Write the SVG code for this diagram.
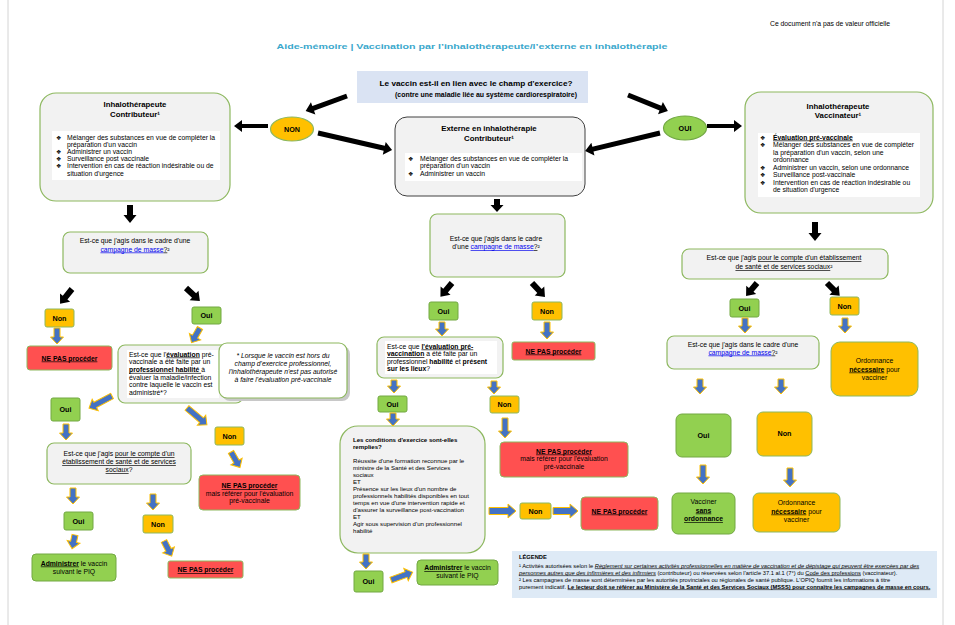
<svg xmlns="http://www.w3.org/2000/svg" width="955" height="625" viewBox="0 0 955 625">
<style>
text{font-family:"Liberation Sans",Arial,Helvetica,sans-serif;fill:#000;font-size:6.8px}
.c{text-anchor:middle}
.b{font-weight:bold}
.u{text-decoration:underline}
.i{font-style:italic}
.lk{fill:#0000EE;text-decoration:underline}
.bul{font-family:"DejaVu Sans",sans-serif;font-size:6px}
.gbox{fill:#F2F2F2;stroke:#8DB85F;stroke-width:1.2}
.wb{fill:#FFFFFF}
.oui{fill:#92D050;stroke:#72A843;stroke-width:1}
.non{fill:#FFC000;stroke:#8DB85F;stroke-width:1}
.red{fill:#FF5050;stroke:#8DB85F;stroke-width:1}
.yn{font-weight:bold;font-size:7.2px;text-anchor:middle}
.ba{fill:#4472C4;stroke:#FFC000;stroke-width:1}
.ka{fill:#000}
.leg{font-size:5.75px}
.cd{font-size:6.1px}
.tt{font-weight:bold;font-size:7.8px;text-anchor:middle}
</style>
<rect width="955" height="625" fill="#FFFFFF"/>
<line x1="8" y1="0" x2="8" y2="625" stroke="#D4D4D4" stroke-width="1"/>
<line x1="943" y1="0" x2="943" y2="625" stroke="#D4D4D4" stroke-width="1"/>

<g id="header">
<text x="830" y="26" class="c" font-size="6.5" textLength="120" lengthAdjust="spacingAndGlyphs">Ce document n'a pas de valeur officielle</text>
<text x="472" y="49" class="c b" font-size="10.5" style="fill:#3AA8CC" textLength="391" lengthAdjust="spacingAndGlyphs">Aide-mémoire | Vaccination par l’inhalothérapeute/l’externe en inhalothérapie</text>
</g>

<g id="q-champ">
<rect x="357" y="71" width="231" height="32" fill="#DAE3F3"/>
<text x="476" y="86" class="c b" font-size="9.5" textLength="193" lengthAdjust="spacingAndGlyphs">Le vaccin est-il en lien avec le champ d'exercice?</text>
<text x="486" y="97" class="c b" font-size="6.5" textLength="182" lengthAdjust="spacingAndGlyphs">(contre une maladie liée au système cardiorespiratoire)</text>
</g>

<g id="non-top">
<ellipse cx="292" cy="129" rx="21.5" ry="12" fill="#FFC000" stroke="#8DB85F" stroke-width="1.2"/>
<text x="292" y="132" class="yn">NON</text>
</g>
<g id="oui-top">
<ellipse cx="685" cy="128" rx="21.5" ry="12" fill="#92D050" stroke="#72A843" stroke-width="1.2"/>
<text x="685" y="131" class="yn">OUI</text>
</g>

<g id="box-inh-contrib">
<rect x="40" y="93" width="190" height="108" rx="16" class="gbox"/>
<rect x="52" y="131" width="168" height="49" class="wb"/>
<text x="135" y="107" class="tt">Inhalothérapeute</text>
<text x="135" y="116.5" class="tt">Contributeur¹</text>
<text x="56" y="139.5" class="bul">❖</text><text x="67" y="139.5">Mélanger des substances en vue de compléter la</text>
<text x="67" y="146.7">préparation d'un vaccin</text>
<text x="56" y="153.9" class="bul">❖</text><text x="67" y="153.9">Administrer un vaccin</text>
<text x="56" y="161.1" class="bul">❖</text><text x="67" y="161.1">Surveillance post vaccinale</text>
<text x="56" y="168.3" class="bul">❖</text><text x="67" y="168.3">Intervention en cas de réaction indésirable ou de</text>
<text x="67" y="175.5">situation d'urgence</text>
</g>

<g id="box-externe">
<rect x="395" y="117" width="190" height="79" rx="12" fill="#F2F2F2" stroke="#404040" stroke-width="1"/>
<rect x="405" y="153" width="177" height="28" class="wb"/>
<text x="489" y="131" class="tt">Externe en inhalothérapie</text>
<text x="489" y="140.5" class="tt">Contributeur¹</text>
<text x="408" y="161" class="bul">❖</text><text x="420" y="161">Mélanger des substances en vue de compléter la</text>
<text x="420" y="168">préparation d'un vaccin</text>
<text x="408" y="175.5" class="bul">❖</text><text x="420" y="175.5">Administrer un vaccin</text>
</g>

<g id="box-inh-vaccinateur">
<rect x="745" y="92" width="188" height="121" rx="16" class="gbox"/>
<rect x="758" y="133" width="162" height="64" class="wb"/>
<text x="838" y="108.5" class="tt">Inhalothérapeute</text>
<text x="838" y="118" class="tt">Vaccinateur¹</text>
<text x="760" y="139.5" class="bul">❖</text><text x="773" y="139.5" class="b u">Évaluation pré-vaccinale</text>
<text x="760" y="147" class="bul">❖</text><text x="773" y="147">Mélanger des substances en vue de compléter</text>
<text x="773" y="154.5">la préparation d'un vaccin, selon une</text>
<text x="773" y="162">ordonnance</text>
<text x="760" y="169.5" class="bul">❖</text><text x="773" y="169.5">Administrer un vaccin, selon une ordonnance</text>
<text x="760" y="177" class="bul">❖</text><text x="773" y="177">Surveillance post-vaccinale</text>
<text x="760" y="184.5" class="bul">❖</text><text x="773" y="184.5">Intervention en cas de réaction indésirable ou</text>
<text x="773" y="192">de situation d'urgence</text>
</g>

<!-- Left column -->
<g id="q-l-campagne">
<rect x="63" y="232" width="145" height="41" rx="7" class="gbox"/>
<text x="135" y="243" class="c">Est-ce que j'agis dans le cadre d'une</text>
<text x="135" y="251.5" class="c"><tspan class="lk">campagne de masse</tspan><tspan class="u">?</tspan>²</text>
</g>
<g id="l-non1"><rect x="45" y="309" width="29" height="18" rx="2" class="non"/><text x="59.5" y="320.5" class="yn">Non</text></g>
<g id="l-oui1"><rect x="192" y="307" width="29" height="17" rx="2" class="oui"/><text x="206.5" y="318" class="yn">Oui</text></g>
<g id="l-stop1"><rect x="27" y="346" width="85" height="24" rx="3" class="red"/><text x="69.5" y="360.5" class="c b u">NE PAS procéder</text></g>

<g id="q-l-evaluation">
<rect x="118" y="345" width="125" height="58" rx="7" class="gbox"/>
<rect x="127" y="350" width="92" height="48" class="wb"/>
<text x="129" y="356.5">Est-ce que l'<tspan class="b u">évaluation</tspan> pré-</text>
<text x="129" y="364.2">vaccinale a été faite par un</text>
<text x="129" y="371.9"><tspan class="b u">professionnel habilité </tspan>à</text>
<text x="129" y="379.6">évaluer la maladie/infection</text>
<text x="129" y="387.3">contre laquelle le vaccin est</text>
<text x="129" y="395">administré*?</text>
</g>
<g id="note">
<rect x="222" y="346" width="128" height="55" rx="8" fill="#C8C8C8"/>
<rect x="219" y="343" width="128" height="55" rx="8" fill="#FFFFFF" stroke="#8DB85F" stroke-width="1.2"/>
<text x="283" y="358" class="c i">* Lorsque le vaccin est hors du</text>
<text x="283" y="366" class="c i">champ d'exercice professionnel,</text>
<text x="283" y="374" class="c i">l'inhalothérapeute n'est pas autorisé</text>
<text x="283" y="382" class="c i">à faire l'évaluation pré-vaccinale</text>
</g>
<g id="l-oui2"><rect x="51" y="398" width="29" height="23" rx="2" class="oui"/><text x="65.5" y="412" class="yn">Oui</text></g>
<g id="l-non2"><rect x="215" y="427" width="29" height="18" rx="2" class="non"/><text x="229.5" y="438.5" class="yn">Non</text></g>
<g id="q-l-etablissement">
<rect x="47" y="443" width="144" height="41" rx="7" class="gbox"/>
<text x="119" y="456" class="c">Est-ce que j'agis <tspan class="u">pour le compte d'un</tspan></text>
<text x="119" y="464" class="c u">établissement de santé et de services</text>
<text x="119" y="472" class="c"><tspan class="u">sociaux</tspan>?</text>
</g>
<g id="l-stop2">
<rect x="199" y="475" width="101" height="35" rx="4" class="red"/>
<text x="249.5" y="488" class="c b u">NE PAS procéder</text>
<text x="249.5" y="495.5" class="c">mais référer pour l'évaluation</text>
<text x="249.5" y="503" class="c">pré-vaccinale</text>
</g>
<g id="l-oui3"><rect x="64" y="512" width="29" height="18" rx="2" class="oui"/><text x="78.5" y="523.5" class="yn">Oui</text></g>
<g id="l-non3"><rect x="143" y="515" width="30" height="18" rx="2" class="non"/><text x="158" y="526.5" class="yn">Non</text></g>
<g id="l-administrer">
<rect x="32" y="554" width="84" height="27" rx="4" class="oui"/>
<text x="74" y="565.5" class="c"><tspan class="b u">Administrer</tspan> le vaccin</text>
<text x="74" y="573.5" class="c">suivant le PIQ</text>
</g>
<g id="l-stop3"><rect x="168" y="561" width="75" height="17" rx="2" class="red"/><text x="205.5" y="572" class="c b u">NE PAS procéder</text></g>

<!-- Center column -->
<g id="q-c-campagne">
<rect x="430" y="214" width="135" height="63" rx="7" class="gbox"/>
<text x="496" y="241" class="c">Est-ce que j'agis dans le cadre</text>
<text x="496" y="249" class="c">d'une <tspan class="lk">campagne de masse</tspan><tspan class="u">?</tspan>²</text>
</g>
<g id="c-oui1"><rect x="429" y="302" width="29" height="18" rx="2" class="oui"/><text x="443.5" y="313.5" class="yn">Oui</text></g>
<g id="c-non1"><rect x="532" y="302" width="30" height="18" rx="2" class="non"/><text x="547" y="313.5" class="yn">Non</text></g>
<g id="c-stop1"><rect x="512" y="342" width="83" height="18" rx="2" class="red"/><text x="553.5" y="353.5" class="c b u">NE PAS procéder</text></g>
<g id="q-c-evaluation">
<rect x="377" y="337" width="126" height="41" rx="7" class="gbox"/>
<rect x="385" y="341" width="112" height="33" class="wb"/>
<text x="387" y="348.5">Est-ce que <tspan class="b u">l'évaluation pré-</tspan></text>
<text x="387" y="356"><tspan class="b u">vaccination</tspan> a été faite par un</text>
<text x="387" y="363.5">professionnel <tspan class="b">habilité</tspan> et <tspan class="b">présent</tspan></text>
<text x="387" y="371"><tspan class="b">sur les lieux</tspan>?</text>
</g>
<g id="c-oui2"><rect x="378" y="396" width="29" height="16" rx="2" class="oui"/><text x="392.5" y="406.5" class="yn">Oui</text></g>
<g id="c-non2"><rect x="490" y="396" width="29" height="17" rx="2" class="non"/><text x="504.5" y="407" class="yn">Non</text></g>
<g id="q-c-conditions">
<rect x="340" y="426" width="145" height="127" rx="18" class="gbox"/>
<text x="353" y="441.5" class="b cd">Les conditions d'exercice sont-elles</text>
<text x="353" y="448.5" class="b cd">remplies?</text>
<text x="353" y="462.5" class="cd">Réussite d'une formation reconnue par le</text>
<text x="353" y="469.5" class="cd">ministre de la Santé et des Services</text>
<text x="353" y="476.5" class="cd">sociaux</text>
<text x="353" y="483.5" class="cd">ET</text>
<text x="353" y="490.5" class="cd">Présence sur les lieux d'un nombre de</text>
<text x="353" y="497.5" class="cd">professionnels habilités disponibles en tout</text>
<text x="353" y="504.5" class="cd">temps en vue d'une intervention rapide et</text>
<text x="353" y="511.5" class="cd">d'assurer la surveillance post-vaccination</text>
<text x="353" y="518.5" class="cd">ET</text>
<text x="353" y="525.5" class="cd">Agir sous supervision d'un professionnel</text>
<text x="353" y="533" class="cd">habilité</text>
</g>
<g id="c-stop2">
<rect x="500" y="442" width="128" height="35" rx="4" class="red"/>
<text x="564" y="453.5" class="c b u">NE PAS procéder</text>
<text x="564" y="461" class="c">mais référer pour l'évaluation</text>
<text x="564" y="468.5" class="c">pré-vaccinale</text>
</g>
<g id="c-non3"><rect x="520" y="503" width="31" height="16" rx="2" class="non"/><text x="535.5" y="514" class="yn">Non</text></g>
<g id="c-stop3"><rect x="581" y="497" width="77" height="33" rx="4" class="red"/><text x="619.5" y="513.5" class="c b u">NE PAS procéder</text></g>
<g id="c-oui3"><rect x="354" y="571" width="29" height="21" rx="2" class="oui"/><text x="368.5" y="584" class="yn">Oui</text></g>
<g id="c-administrer">
<rect x="417" y="560" width="81" height="25" rx="4" class="oui"/>
<text x="457.5" y="570" class="c"><tspan class="b u">Administrer</tspan> le vaccin</text>
<text x="457.5" y="578" class="c">suivant le PIQ</text>
</g>

<!-- Right column -->
<g id="q-r-etablissement">
<rect x="682" y="249" width="206" height="30" rx="7" class="gbox"/>
<text x="784" y="260" class="c">Est-ce que j'agis <tspan class="u">pour le compte d'un établissement</tspan></text>
<text x="784" y="269" class="c"><tspan class="u">de santé et de services sociaux</tspan>²</text>
</g>
<g id="r-oui1"><rect x="730" y="299" width="29" height="18" rx="2" class="oui"/><text x="744.5" y="310.5" class="yn">Oui</text></g>
<g id="r-non1"><rect x="830" y="297" width="29" height="18" rx="2" class="non"/><text x="844.5" y="308.5" class="yn">Non</text></g>
<g id="q-r-campagne">
<rect x="667" y="336" width="152" height="33" rx="7" class="gbox"/>
<text x="743" y="346.5" class="c">Est-ce que j'agis dans le cadre d'une</text>
<text x="743" y="354.5" class="c"><tspan class="lk">campagne de masse</tspan><tspan class="u">?</tspan>²</text>
</g>
<g id="r-ordonnance1">
<rect x="831" y="342" width="87" height="54" rx="9" class="non"/>
<text x="874.5" y="363" class="c">Ordonnance</text>
<text x="874.5" y="371.5" class="c"><tspan class="b u">nécessaire</tspan> pour</text>
<text x="874.5" y="379.5" class="c">vacciner</text>
</g>
<g id="r-oui2"><rect x="676" y="414" width="55" height="43" rx="6" class="oui"/><text x="703.5" y="438" class="yn">Oui</text></g>
<g id="r-non2"><rect x="757" y="412" width="55" height="44" rx="6" class="non"/><text x="784.5" y="436" class="yn">Non</text></g>
<g id="r-vacciner">
<rect x="672" y="493" width="63" height="41" rx="6" class="oui"/>
<text x="703.5" y="504" class="c">Vacciner</text>
<text x="703.5" y="512.5" class="c b u">sans</text>
<text x="703.5" y="521" class="c b u">ordonnance</text>
</g>
<g id="r-ordonnance2">
<rect x="753" y="493" width="87" height="39" rx="6" class="non"/>
<text x="796.5" y="505" class="c">Ordonnance</text>
<text x="796.5" y="513.5" class="c"><tspan class="b u">nécessaire</tspan> pour</text>
<text x="796.5" y="522" class="c">vacciner</text>
</g>

<g id="legende">
<rect x="512" y="551" width="425" height="47" fill="#DEEAF6"/>
<text x="519" y="558.5" class="leg b">LÉGENDE</text>
<text x="519" y="567.5" class="leg">¹ Activités autorisées selon le <tspan class="i u">Règlement sur certaines activités professionnelles en matière de vaccination et de dépistage qui peuvent être exercées par des</tspan></text>
<text x="519" y="574.5" class="leg"><tspan class="i u">personnes autres que des infirmières et des infirmiers</tspan> (contributeur) ou réservées selon l'article 37.1 al.1 (7°) du <tspan class="u">Code des professions</tspan> (vaccinateur).</text>
<text x="519" y="581.5" class="leg">² Les campagnes de masse sont déterminées par les autorités provinciales ou régionales de santé publique. L'OPIQ fournit les informations à titre</text>
<text x="519" y="588.5" class="leg">purement indicatif. <tspan class="b u">Le lecteur doit se référer au Ministère de la Santé et des Services Sociaux (MSSS) pour connaître les campagnes de masse en cours.</tspan></text>
</g>

<g id="connectors">
<!-- black arrows -->
<path class="ka" transform="translate(347,96) rotate(70)" d="M-2.5,0H2.5V36H6.5L0,44L-6.5,36H-2.5Z"/>
<path class="ka" transform="translate(628,95) rotate(-68)" d="M-2.5,0H2.5V35H6.5L0,43L-6.5,35H-2.5Z"/>
<path class="ka" transform="translate(268,126) rotate(90)" d="M-2,0H2V26H6L0,34L-6,26H-2Z"/>
<path class="ka" transform="translate(318,133) rotate(-77)" d="M-2.5,0H2.5V68H6.5L0,76L-6.5,68H-2.5Z"/>
<path class="ka" transform="translate(707,126) rotate(-90)" d="M-2,0H2V27H6L0,35L-6,27H-2Z"/>
<path class="ka" transform="translate(660,133) rotate(76.5)" d="M-2.5,0H2.5V69H6.5L0,77L-6.5,69H-2.5Z"/>
<path class="ka" transform="translate(130,205)" d="M-3,0H3V10H6.5L0,18L-6.5,10H-3Z"/>
<path class="ka" transform="translate(497,199)" d="M-3,0H3V6H6.5L0,13L-6.5,6H-3Z"/>
<path class="ka" transform="translate(815,222)" d="M-3,0H3V11H6.5L0,19L-6.5,11H-3Z"/>
<path class="ka" transform="translate(72,289) rotate(39)" d="M-3,0H3V11H6.5L0,19L-6.5,11H-3Z"/>
<path class="ka" transform="translate(186,288) rotate(-47)" d="M-3,0H3V11H6.5L0,19L-6.5,11H-3Z"/>
<path class="ka" transform="translate(452,283) rotate(40)" d="M-3,0H3V10H6.5L0,18L-6.5,10H-3Z"/>
<path class="ka" transform="translate(532,283) rotate(-43)" d="M-3,0H3V11H6.5L0,19L-6.5,11H-3Z"/>
<path class="ka" transform="translate(757,283) rotate(40)" d="M-3,0H3V9H6.5L0,17L-6.5,9H-3Z"/>
<path class="ka" transform="translate(827,283) rotate(-45)" d="M-3,0H3V10H6.5L0,18L-6.5,10H-3Z"/>
<!-- blue arrows -->
<path class="ba" transform="translate(57,328)" d="M-3,0H3V9H6.5L0,16L-6.5,9H-3Z"/>
<path class="ba" transform="translate(200,328) rotate(30)" d="M-3,0H3V10H6.5L0,17L-6.5,10H-3Z"/>
<path class="ba" transform="translate(112,396) rotate(62)" d="M-3,0H3V19H6.5L0,26L-6.5,19H-3Z"/>
<path class="ba" transform="translate(187,408) rotate(-50)" d="M-3,0H3V19H6.5L0,26L-6.5,19H-3Z"/>
<path class="ba" transform="translate(66,424)" d="M-3,0H3V9H6.5L0,16L-6.5,9H-3Z"/>
<path class="ba" transform="translate(231,452) rotate(-30)" d="M-3,0H3V11H6.5L0,18L-6.5,11H-3Z"/>
<path class="ba" transform="translate(73,488)" d="M-3,0H3V9H6.5L0,16L-6.5,9H-3Z"/>
<path class="ba" transform="translate(153,494)" d="M-3,0H3V9H6.5L0,16L-6.5,9H-3Z"/>
<path class="ba" transform="translate(75,535) rotate(12)" d="M-3,0H3V7H6.5L0,14L-6.5,7H-3Z"/>
<path class="ba" transform="translate(164,541) rotate(-27)" d="M-3,0H3V10H6.5L0,17L-6.5,10H-3Z"/>
<path class="ba" transform="translate(442,322)" d="M-3,0H3V7H6.5L0,14L-6.5,7H-3Z"/>
<path class="ba" transform="translate(547,322)" d="M-3,0H3V10H6.5L0,17L-6.5,10H-3Z"/>
<path class="ba" transform="translate(394,380)" d="M-3,0H3V6H6.5L0,13L-6.5,6H-3Z"/>
<path class="ba" transform="translate(494,381)" d="M-3,0H3V6H6.5L0,13L-6.5,6H-3Z"/>
<path class="ba" transform="translate(393,413)" d="M-3,0H3V6H6.5L0,13L-6.5,6H-3Z"/>
<path class="ba" transform="translate(505,418)" d="M-3,0H3V13H6.5L0,20L-6.5,13H-3Z"/>
<path class="ba" transform="translate(489,511) rotate(-90)" d="M-3.5,0H3.5V19H7L0,27L-7,19H-3.5Z"/>
<path class="ba" transform="translate(553,511) rotate(-90)" d="M-3.5,0H3.5V17H7L0,25L-7,17H-3.5Z"/>
<path class="ba" transform="translate(366,554)" d="M-3,0H3V8H6.5L0,15L-6.5,8H-3Z"/>
<path class="ba" transform="translate(391,580) rotate(-110)" d="M-3,0H3V16H6.5L0,23L-6.5,16H-3Z"/>
<path class="ba" transform="translate(745,318)" d="M-3,0H3V8H6.5L0,15L-6.5,8H-3Z"/>
<path class="ba" transform="translate(845,318)" d="M-3,0H3V8H6.5L0,15L-6.5,8H-3Z"/>
<path class="ba" transform="translate(700,379)" d="M-3,0H3V8H6.5L0,15L-6.5,8H-3Z"/>
<path class="ba" transform="translate(781,379)" d="M-3,0H3V8H6.5L0,15L-6.5,8H-3Z"/>
<path class="ba" transform="translate(703,465)" d="M-3,0H3V12H6.5L0,19L-6.5,12H-3Z"/>
<path class="ba" transform="translate(790,468)" d="M-3,0H3V12H6.5L0,19L-6.5,12H-3Z"/>
</g>
</svg>
